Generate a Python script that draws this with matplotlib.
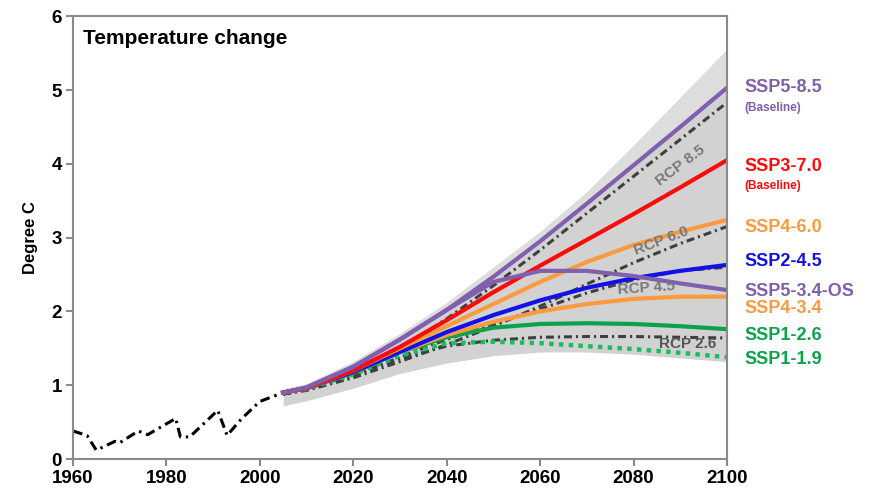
import matplotlib
matplotlib.use("Agg")
import matplotlib.pyplot as plt

plt.rcParams['font.family'] = ['Liberation Sans', 'DejaVu Sans']

# historical (observed) temperature change
hist_years = [1960, 1963, 1965, 1969, 1970, 1974, 1976, 1982, 1983, 1985, 1991, 1993, 1996, 2000, 2005]
hist_vals = [0.38, 0.32, 0.12, 0.24, 0.22, 0.38, 0.33, 0.55, 0.30, 0.30, 0.66, 0.32, 0.54, 0.78, 0.90]

# scenario years
years = [2005, 2010, 2020, 2030, 2040, 2050, 2060, 2070, 2080, 2090, 2100]

# spread of all scenarios (grey fan)
env_hi = [0.95, 1.02, 1.32, 1.70, 2.12, 2.60, 3.08, 3.62, 4.25, 4.90, 5.55]
env_lo = [0.72, 0.79, 0.96, 1.16, 1.30, 1.40, 1.45, 1.45, 1.42, 1.37, 1.32]

# SSP marker scenarios
ssp585 = [0.90, 0.97, 1.25, 1.62, 2.02, 2.47, 2.95, 3.46, 3.98, 4.50, 5.03]
ssp370 = [0.90, 0.96, 1.20, 1.52, 1.88, 2.26, 2.62, 2.97, 3.32, 3.68, 4.05]
ssp460 = [0.90, 0.96, 1.20, 1.50, 1.80, 2.10, 2.40, 2.67, 2.90, 3.08, 3.24]
ssp245 = [0.90, 0.96, 1.18, 1.45, 1.72, 1.95, 2.15, 2.32, 2.45, 2.55, 2.63]
ssp534os = [0.90, 0.97, 1.25, 1.62, 2.02, 2.40, 2.55, 2.55, 2.48, 2.38, 2.29]
ssp434 = [0.90, 0.96, 1.18, 1.45, 1.68, 1.86, 2.00, 2.10, 2.17, 2.20, 2.20]
ssp126 = [0.90, 0.96, 1.17, 1.45, 1.65, 1.78, 1.83, 1.84, 1.83, 1.80, 1.76]
ssp119 = [0.90, 0.95, 1.15, 1.40, 1.57, 1.59, 1.57, 1.53, 1.49, 1.44, 1.38]

# RCP scenarios
rcp85 = [0.88, 0.95, 1.18, 1.50, 1.90, 2.35, 2.83, 3.33, 3.83, 4.33, 4.83]
rcp60 = [0.88, 0.93, 1.10, 1.32, 1.55, 1.80, 2.07, 2.37, 2.66, 2.92, 3.15]
rcp45 = [0.88, 0.94, 1.13, 1.38, 1.62, 1.83, 2.03, 2.25, 2.43, 2.55, 2.60]
rcp26 = [0.88, 0.94, 1.13, 1.36, 1.53, 1.61, 1.65, 1.66, 1.66, 1.65, 1.64]

purple = '#7f5fae'
red = '#ff0a0a'
orange = '#f99b3e'
blue = '#1212e8'
green = '#0aa34a'
green2 = '#16bf5a'
rcpcol = '#3f3f3f'

fig = plt.figure(figsize=(8.79, 4.92), dpi=100)
ax = fig.add_axes([0.083, 0.067, 0.744, 0.9])

ax.fill_between(years, env_lo, env_hi, color='#d2d2d2', lw=0)
ax.fill_between(years, ssp585, env_hi, color='#dddddd', lw=0)

ax.plot(hist_years, hist_vals, color='black', lw=2.2, dashes=(3.2, 1.6, 0.8, 1.6))

dd = (2.6, 1.3, 0.7, 1.3)
ax.plot(years, rcp85, color=rcpcol, lw=2.2, dashes=dd)
ax.plot(years, rcp60, color=rcpcol, lw=2.2, dashes=dd)
ax.plot(years, rcp45, color=rcpcol, lw=2.2, dashes=dd)
ax.plot(years, rcp26, color=rcpcol, lw=2.2, dashes=dd)

ax.plot(years, ssp119, color=green2, lw=3.2, dashes=(1, 1.2))
ax.plot(years, ssp126, color=green, lw=3)
ax.plot(years, ssp434, color=orange, lw=3)
ax.plot(years, ssp245, color=blue, lw=3)
ax.plot(years, ssp460, color=orange, lw=3)
ax.plot(years, ssp370, color=red, lw=3)
ax.plot(years, ssp534os, color=purple, lw=3)
ax.plot(years, ssp585, color=purple, lw=3)

# RCP labels along the lines
ax.text(2090, 3.98, 'RCP 8.5', color='#777777', fontsize=11, fontweight='bold',
        rotation=37, ha='center', va='center')
ax.text(2086, 2.96, 'RCP 6.0', color='#777777', fontsize=11, fontweight='bold',
        rotation=21, ha='center', va='center')
ax.text(2082.7, 2.32, 'RCP 4.5', color='#777777', fontsize=11, fontweight='bold',
        rotation=4, ha='center', va='center')
ax.text(2091.5, 1.56, 'RCP 2.6', color='#555555', fontsize=11, fontweight='bold',
        ha='center', va='center')

# scenario names to the right
lx = 2103.7
labels = [
    (5.03, 'SSP5-8.5', purple, 13),
    (4.76, '(Baseline)', purple, 8.5),
    (3.97, 'SSP3-7.0', red, 13),
    (3.70, '(Baseline)', red, 8.5),
    (3.14, 'SSP4-6.0', orange, 13),
    (2.67, 'SSP2-4.5', blue, 13),
    (2.27, 'SSP5-3.4-OS', purple, 13),
    (2.04, 'SSP4-3.4', orange, 13),
    (1.68, 'SSP1-2.6', green, 13),
    (1.35, 'SSP1-1.9', green, 13),
]
for yv, txt, col, fs in labels:
    ax.text(lx, yv, txt, color=col, fontsize=fs, fontweight='bold',
            ha='left', va='center', clip_on=False)

ax.text(1962.2, 5.7, 'Temperature change', fontsize=15, fontweight='bold',
        ha='left', va='center')

ax.set_xlim(1960, 2100)
ax.set_ylim(0, 6)
ax.set_xticks([1960, 1980, 2000, 2020, 2040, 2060, 2080, 2100])
ax.set_yticks([0, 1, 2, 3, 4, 5, 6])
ax.set_ylabel('Degree C', fontsize=12, fontweight='bold', labelpad=10)

for s in ax.spines.values():
    s.set_color('#8a8a8a')
    s.set_linewidth(1.5)
ax.tick_params(direction='out', length=5, width=1.5, color='#8a8a8a',
               labelsize=13.5, pad=3)
for lab in ax.get_xticklabels() + ax.get_yticklabels():
    lab.set_fontweight('bold')

fig.savefig('out.png', dpi=100)
